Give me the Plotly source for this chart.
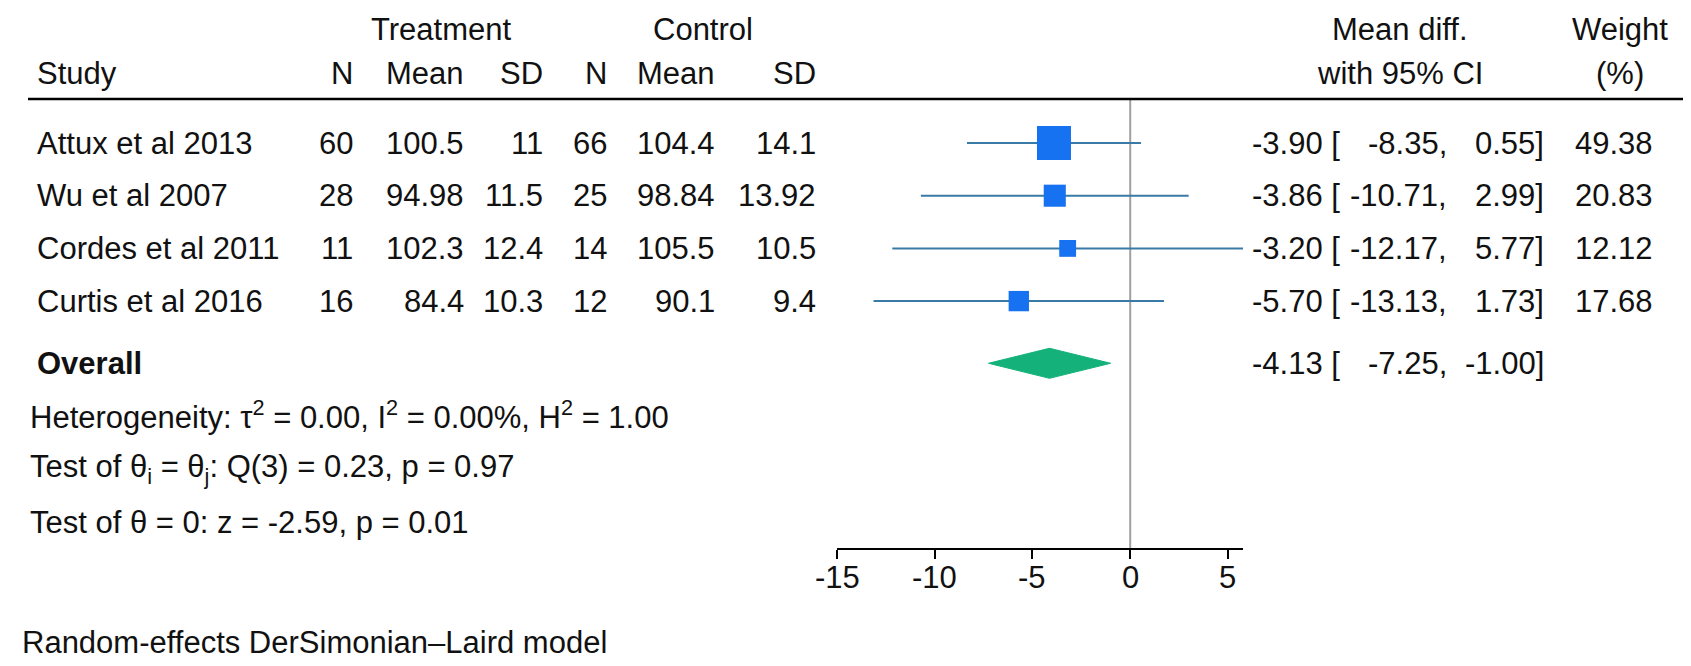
import plotly.graph_objects as go

# ---------------- data ----------------
studies = ["Attux et al 2013", "Wu et al 2007", "Cordes et al 2011", "Curtis et al 2016"]
n_t = [60, 28, 11, 16]
mean_t = [100.5, 94.98, 102.3, 84.4]
sd_t = [11, 11.5, 12.4, 10.3]
n_c = [66, 25, 14, 12]
mean_c = [104.4, 98.84, 105.5, 90.1]
sd_c = [14.1, 13.92, 10.5, 9.4]
md = [-3.90, -3.86, -3.20, -5.70]
ci_lo = [-8.35, -10.71, -12.17, -13.13]
ci_hi = [0.55, 2.99, 5.77, 1.73]
weight = [49.38, 20.83, 12.12, 17.68]
overall_label = "Overall"
overall_est = -4.13
overall_lo = -7.25
overall_hi = -1.00
tick_vals = [-15, -10, -5, 0, 5]
het_text = "Heterogeneity: τ<sup>2</sup> = 0.00, I<sup>2</sup> = 0.00%, H<sup>2</sup> = 1.00"
q_text = "Test of θ<sub>i</sub> = θ<sub>j</sub>: Q(3) = 0.23, p = 0.97"
z_text = "Test of θ = 0: z = -2.59, p = 0.01"
model_text = "Random-effects DerSimonian–Laird model"

# ---------------- layout constants ----------------
W, H = 1691, 666
FONT = "Liberation Sans, Arial, Helvetica, sans-serif"
FS = 31
TXT = "#111111"
ROW0_PX, ROW_STEP = 143, 52.7
def row_from_px(px):
    return (px - ROW0_PX) / ROW_STEP
def pfy(px):
    return 1 - px / H
def pfx(px):
    return px / W

rows = list(range(len(studies)))
overall_row = 4.18
axis_px = 549
header_line_px = 99

fig = go.Figure()

base = 34.0
sizes = [base * (w / max(weight)) ** 0.5 for w in weight]
fig.add_trace(go.Scatter(
    x=md, y=rows, mode="markers",
    marker=dict(symbol="square", size=sizes, color="#1672f0", opacity=1, line=dict(width=0)),
    error_x=dict(type="data", symmetric=False,
                 array=[h - m for h, m in zip(ci_hi, md)],
                 arrayminus=[m - l for m, l in zip(md, ci_lo)],
                 width=0, thickness=2, color="#3a7aa6"),
    cliponaxis=False, showlegend=False, hoverinfo="skip"))

dh = 0.285
fig.add_trace(go.Scatter(
    x=[overall_lo, overall_est, overall_hi, overall_est, overall_lo],
    y=[overall_row, overall_row - dh, overall_row, overall_row + dh, overall_row],
    mode="lines", fill="toself", fillcolor="#14b27a",
    line=dict(color="#14b27a", width=1), cliponaxis=False,
    showlegend=False, hoverinfo="skip"))

ann = []
def add(text, x, y, xanchor="left", yref="y", xref="paper"):
    ann.append(dict(text=text, x=x, y=y, xref=xref, yref=yref,
                    xanchor=xanchor, yanchor="middle", showarrow=False,
                    font=dict(family=FONT, size=FS, color=TXT)))

add("Treatment", pfx(441), pfy(30), "center", "paper")
add("Control", pfx(703), pfy(30), "center", "paper")
add("Mean diff.", pfx(1400), pfy(30), "center", "paper")
add("Weight", pfx(1620), pfy(30), "center", "paper")
add("Study", pfx(35), pfy(73), "left", "paper")
col_right = [355, 466, 545, 609, 717, 818]
for lab, xr in zip(["N", "Mean", "SD", "N", "Mean", "SD"], col_right):
    add(lab, pfx(xr), pfy(73), "right", "paper")
add("with 95% CI", pfx(1400), pfy(73), "center", "paper")
add("(%)", pfx(1620), pfy(73), "center", "paper")

for i, r in enumerate(rows):
    add(studies[i], pfx(35), r, "left")
    vals = [n_t[i], mean_t[i], sd_t[i], n_c[i], mean_c[i], sd_c[i]]
    for v, xr in zip(vals, col_right):
        add(f"{v:g}", pfx(xr), r, "right")
    add(f"{md[i]:.2f} [", pfx(1342), r, "right")
    add(f"{ci_lo[i]:.2f},", pfx(1449), r, "right")
    add(f"{ci_hi[i]:.2f}]", pfx(1546), r, "right")
    add(f"{weight[i]:.2f}", pfx(1655), r, "right")

add(f"<b>{overall_label}</b>", pfx(35), overall_row, "left")
add(f"{overall_est:.2f} [", pfx(1342), overall_row, "right")
add(f"{overall_lo:.2f},", pfx(1449), overall_row, "right")
add(f"{overall_hi:.2f}]", pfx(1546), overall_row, "right")

add(het_text, pfx(28), pfy(415), "left", "paper")
add(q_text, pfx(28), pfy(469), "left", "paper")
add(z_text, pfx(28), pfy(522), "left", "paper")
add(model_text, pfx(20), pfy(642), "left", "paper")

for t in tick_vals:
    add(str(t), t, pfy(577), "center", "paper", xref="x")

shapes = [
    dict(type="line", xref="paper", yref="paper", x0=pfx(28), x1=pfx(1683),
         y0=pfy(header_line_px), y1=pfy(header_line_px), line=dict(color="black", width=2.5)),
    dict(type="line", xref="x", yref="paper", x0=0, x1=0,
         y0=pfy(axis_px), y1=pfy(header_line_px), line=dict(color="#a0a0a0", width=2),
         layer="below"),
]

fig.update_layout(
    width=W, height=H, margin=dict(l=0, r=0, t=0, b=0),
    paper_bgcolor="white", plot_bgcolor="white",
    annotations=ann, shapes=shapes, showlegend=False,
    xaxis=dict(domain=[pfx(837), pfx(1243)], range=[-15, 5.77],
               anchor="free", position=pfy(axis_px),
               showline=True, linecolor="black", linewidth=2,
               ticks="outside", ticklen=9, tickwidth=2, tickcolor="black",
               tickvals=tick_vals, showticklabels=False,
               showgrid=False, zeroline=False, fixedrange=True),
    yaxis=dict(domain=[0, 1], range=[row_from_px(H), row_from_px(0)],
               visible=False, showgrid=False, zeroline=False, fixedrange=True),
)

fig.write_html("out.html", config={"displayModeBar": False},
               post_script="document.body.style.margin='0px';document.body.style.overflow='hidden';")
